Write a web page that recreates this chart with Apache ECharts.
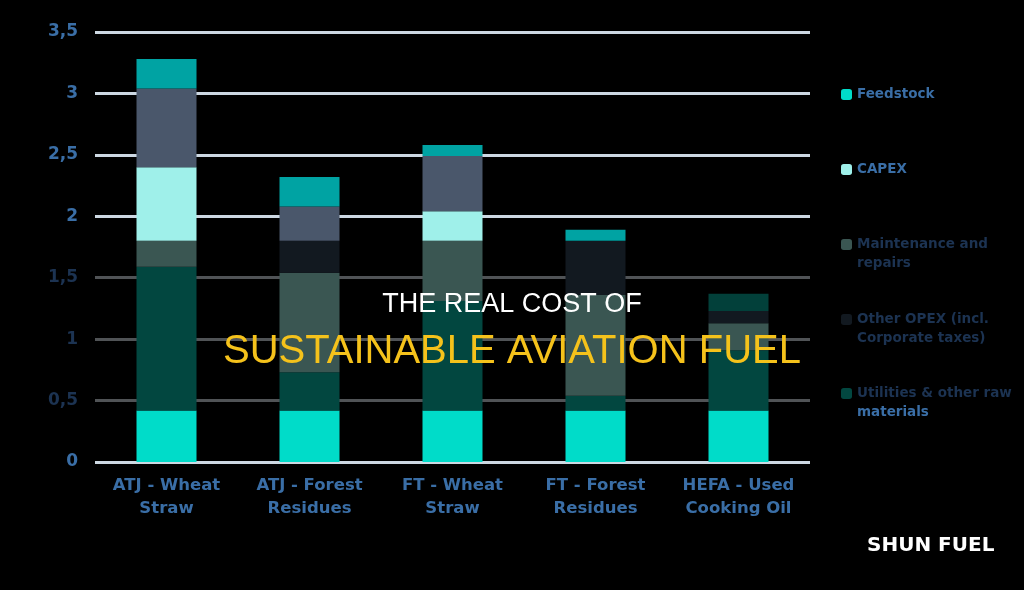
<!DOCTYPE html>
<html>
<head>
<meta charset="utf-8">
<script src="https://cdn.jsdelivr.net/npm/echarts@6/dist/echarts.min.js"></script>
<style>
  html, body { margin: 0; padding: 0; background: #000; }
  #chart { width: 1024px; height: 590px; }
</style>
</head>
<body>
<div id="chart"></div>
<script>
// categories and stacked cost components
var categories = ['ATJ - Wheat Straw', 'ATJ - Forest Residues', 'FT - Wheat Straw', 'FT - Forest Residues', 'HEFA - Used Cooking Oil'];
var feedstock   = [0.42, 0.42, 0.42, 0.42, 0.42];
var utilities   = [1.17, 0.31, 0.89, 0.12, 0.49];
var maintenance = [0.21, 0.81, 0.49, 0.82, 0.22];
var otherOpex   = [0, 0.26, 0, 0.44, 0.10];
var capex       = [0.60, 0, 0.24, 0, 0];
var other1      = [0.64, 0.28, 0.45, 0, 0];
var other2      = [0.24, 0.24, 0.09, 0.09, 0];
var other3      = [0, 0, 0, 0, 0.14];

var blue = '#3a6ea6';
var dark = '#1c3352';

var myChart = echarts.init(document.getElementById('chart'));

function bar(name, data, color) {
  return {
    name: name,
    type: 'bar',
    stack: 'cost',
    barWidth: 60,
    itemStyle: { color: color },
    data: data
  };
}

// one legend per item so every swatch sits where the picture has it
function legendItem(name, top, label) {
  return {
    data: [name],
    orient: 'vertical',
    left: 841,
    top: top,
    padding: 0,
    icon: 'roundRect',
    itemWidth: 11,
    itemHeight: 11,
    itemGap: 0,
    formatter: function () { return label; },
    textStyle: {
      fontFamily: 'DejaVu Sans',
      fontSize: 13.5,
      fontWeight: 'bold',
      lineHeight: 19,
      color: blue,
      rich: {
        b: { color: blue, fontFamily: 'DejaVu Sans', fontSize: 13.5, fontWeight: 'bold', lineHeight: 19 },
        d: { color: dark, fontFamily: 'DejaVu Sans', fontSize: 13.5, fontWeight: 'bold', lineHeight: 19 }
      }
    }
  };
}

var option = {
  backgroundColor: '#000',
  animation: false,
  grid: { left: 95, right: 214, top: 32, bottom: 128 },
  legend: [
    legendItem('Feedstock', 85, '{b|Feedstock}'),
    legendItem('CAPEX', 160, '{b|CAPEX}'),
    legendItem('Maintenance and repairs', 216, '\n{d|Maintenance and}\n{d|repairs}'),
    legendItem('Other OPEX (incl. Corporate taxes)', 291, '\n{d|Other OPEX (incl.}\n{d|Corporate taxes)}'),
    legendItem('Utilities & other raw materials', 365, '\n{d|Utilities & other raw}\n{b|materials}')
  ],
  xAxis: {
    type: 'category',
    data: categories,
    axisLine: { show: false },
    axisTick: { show: false },
    axisLabel: {
      interval: 0,
      hideOverlap: false,
      margin: 12,
      color: blue,
      fontFamily: 'DejaVu Sans',
      fontWeight: 'bold',
      fontSize: 16.5,
      lineHeight: 23,
      formatter: function (v) {
        var t = v.split(' ');
        return t.slice(0, 3).join(' ') + '\n' + t.slice(3).join(' ');
      }
    }
  },
  yAxis: {
    type: 'value',
    min: 0,
    max: 3.5,
    interval: 0.5,
    axisLine: { show: false },
    axisTick: { show: false },
    axisLabel: {
      margin: 17,
      fontFamily: 'DejaVu Sans',
      fontWeight: 'bold',
      fontSize: 17,
      color: function (v) {
        v = Number(v);
        return (v >= 0.5 && v <= 1.5) ? dark : blue;
      },
      formatter: function (v) { return String(v).replace('.', ','); }
    },
    splitLine: {
      lineStyle: {
        width: 3,
        color: ['#cdd8e2', '#505356', '#505356', '#505356', '#cdd8e2', '#cdd8e2', '#cdd8e2', '#cdd8e2']
      }
    }
  },
  series: [
    bar('Feedstock', feedstock, '#00dcc9'),
    bar('Utilities & other raw materials', utilities, '#024740'),
    bar('Maintenance and repairs', maintenance, '#3a5652'),
    bar('Other OPEX (incl. Corporate taxes)', otherOpex, '#121920'),
    bar('CAPEX', capex, '#9ff0ea'),
    bar('Other 1', other1, '#4a576b'),
    bar('Other 2', other2, '#00a3a3'),
    bar('Other 3', other3, '#02403a')
  ],
  graphic: [
    {
      type: 'text',
      left: 'center',
      top: 291,
      z: 100,
      style: {
        text: 'THE REAL COST OF',
        fill: '#ffffff',
        font: '27px "Liberation Sans", Arial, sans-serif'
      }
    },
    {
      type: 'text',
      left: 'center',
      top: 332,
      z: 100,
      style: {
        text: 'SUSTAINABLE AVIATION FUEL',
        fill: '#f5c21b',
        font: '40px "Liberation Sans", Arial, sans-serif'
      }
    },
    {
      type: 'text',
      left: 867,
      top: 536,
      z: 100,
      style: {
        text: 'SHUN FUEL',
        fill: '#ffffff',
        font: 'bold 20px "DejaVu Sans", sans-serif'
      }
    }
  ]
};

myChart.setOption(option);
window.onresize = function () {
  myChart.resize();
};
</script>
</body>
</html>
